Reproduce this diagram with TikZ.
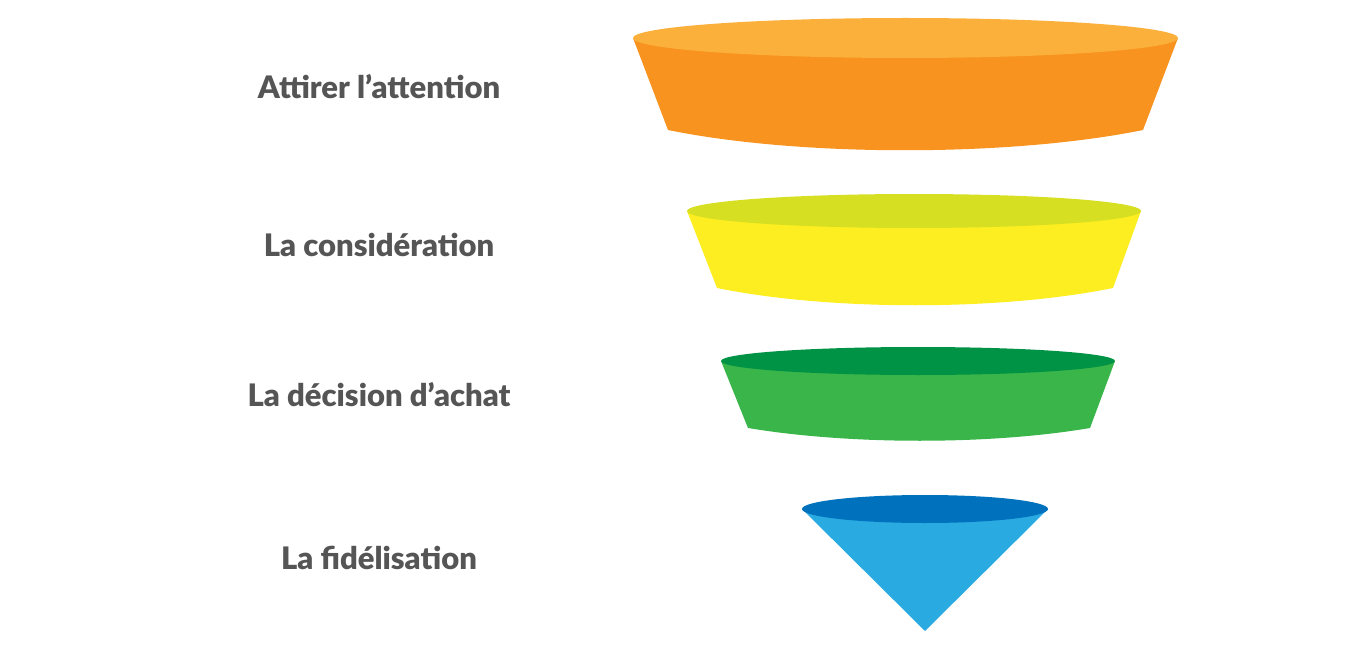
\documentclass[tikz,border=0pt]{standalone}
\usepackage{fontspec}
\setmainfont{Lato}[BoldFont={Lato Black}]
\begin{document}
\begin{tikzpicture}[x=1pt,y=-1pt,
  lbl/.style={font=\bfseries\fontsize{31}{36}\selectfont, text=txt, anchor=center}]
\definecolor{txt}{HTML}{555555}
\useasboundingbox (0,0) rectangle (1350,650);
% orange
\fill[fill={rgb,255:red,247;green,147;blue,30}] (633,38) -- (668,130) .. controls (800,157) and (1010,157) .. (1143,130) -- (1178,38) -- cycle;
\fill[fill={rgb,255:red,251;green,176;blue,59}] (905.5,38) ellipse [x radius=272.5, y radius=20];
% yellow
\fill[fill={rgb,255:red,252;green,238;blue,33}] (687,211) -- (717,288) .. controls (830,311) and (1000,311) .. (1113,288) -- (1141,211) -- cycle;
\fill[fill={rgb,255:red,215;green,223;blue,35}] (914,211) ellipse [x radius=227, y radius=17];
% green
\fill[fill={rgb,255:red,57;green,181;blue,74}] (721,361) -- (748,428) .. controls (850,445) and (990,445) .. (1090,428) -- (1115,361) -- cycle;
\fill[fill={rgb,255:red,0;green,146;blue,69}] (918,361) ellipse [x radius=197, y radius=14];
% blue
\fill[fill={rgb,255:red,41;green,171;blue,226}] (802,509) -- (925,631) -- (1048,509) -- cycle;
\fill[fill={rgb,255:red,0;green,113;blue,188}] (925,509) ellipse [x radius=123, y radius=14];
\node[lbl] (t1) at (379,87) {Attirer l'attention};
\node[lbl] (t2) at (379,245) {La considération};
\node[lbl] (t3) at (379,395) {La décision d'achat};
\node[lbl] (t4) at (379,558) {La fidélisation};
\end{tikzpicture}
\end{document}
